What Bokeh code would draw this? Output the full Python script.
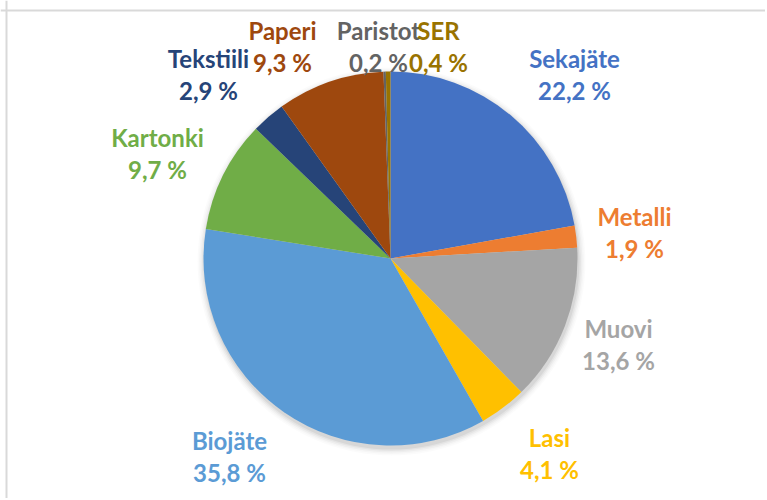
from bokeh.plotting import figure
from bokeh.models import Range1d, Span, ColumnDataSource
from bokeh.embed import file_html
from bokeh.resources import INLINE
from bokeh.core.properties import value
import math

# ---- data ----
categories = ["Sekajäte", "Metalli", "Muovi", "Lasi", "Biojäte",
              "Kartonki", "Tekstiili", "Paperi", "Paristot", "SER"]
shares = [22.2, 1.9, 13.6, 4.1, 35.8, 9.7, 2.9, 9.3, 0.2, 0.4]
colors = ["#4472C4", "#ED7D31", "#A5A5A5", "#FFC000", "#5B9BD5",
          "#70AD47", "#264478", "#9E480E", "#636363", "#997300"]

# ---- layout (screen pixels) ----
W, H = 765, 498
CX, CY, R = 390, 258, 187
# label centres (screen x, screen y)
label_pos = {
    "Sekajäte": (574, 58), "Metalli": (634, 216), "Muovi": (618, 328),
    "Lasi": (549, 437), "Biojäte": (229, 440), "Kartonki": (157, 137),
    "Tekstiili": (208, 58), "Paperi": (282, 30), "Paristot": (378, 30),
    "SER": (438, 30),
}
value_pos = {
    "Sekajäte": (574, 90), "Metalli": (634, 248), "Muovi": (618, 360),
    "Lasi": (549, 469), "Biojäte": (229, 472), "Kartonki": (157, 169),
    "Tekstiili": (208, 90), "Paperi": (282, 62), "Paristot": (378, 62),
    "SER": (438, 62),
}

def sy(y):
    return H - y

p = figure(width=W, height=H, output_backend="svg", toolbar_location=None,
           x_range=Range1d(0, W), y_range=Range1d(0, H),
           min_border=0, match_aspect=False)
p.axis.visible = False
p.grid.visible = False
p.outline_line_color = None
p.background_fill_color = "white"

# soft shadow
for i, a in enumerate([0.05, 0.04, 0.03, 0.02, 0.015]):
    p.circle(x=[CX + 1], y=[sy(CY + 3)], radius=R + 1 + i * 1.5,
             radius_units="screen", fill_color="black", fill_alpha=a,
             line_color=None)

total = sum(shares)
start = []
end = []
acc = 0.0
for s in shares:
    a0 = math.pi / 2 - 2 * math.pi * acc / total
    acc += s
    a1 = math.pi / 2 - 2 * math.pi * acc / total
    start.append(a0)
    end.append(a1)

src = ColumnDataSource(dict(start=start, end=end, color=colors))
p.wedge(x=CX, y=sy(CY), radius=R, radius_units="screen",
        start_angle="start", end_angle="end", direction="clock",
        fill_color="color", line_color=None, source=src)

names_x = [label_pos[c][0] for c in categories]
names_y = [sy(label_pos[c][1]) for c in categories]
vals_x = [value_pos[c][0] for c in categories]
vals_y = [sy(value_pos[c][1]) for c in categories]
val_txt = [("%.1f %%" % v).replace(".", ",") for v in shares]

for xs, ys, txt in [(names_x, names_y, categories), (vals_x, vals_y, val_txt)]:
    p.text(x=xs, y=ys, text=txt, text_color=colors,
           text_font=value("Lato"), text_font_style="bold",
           text_font_size="24px", text_align="center",
           text_baseline="middle")

# frame lines (top and left)
p.add_layout(Span(location=6, dimension="height", line_color="#d9d9d9",
                  line_width=2))
p.add_layout(Span(location=sy(10), dimension="width", line_color="#d9d9d9",
                  line_width=2))

open("out.html", "w").write(file_html(p, INLINE))
